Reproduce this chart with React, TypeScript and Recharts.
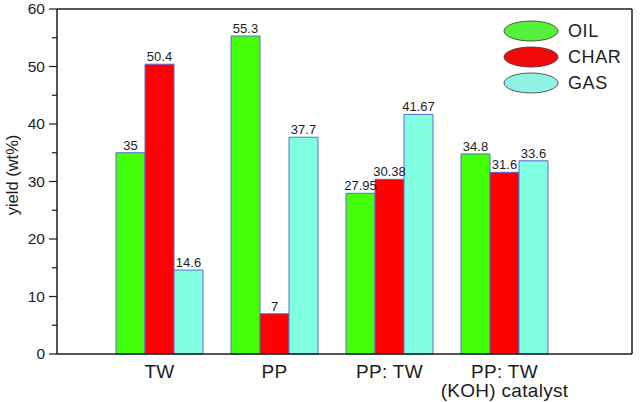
import { BarChart, Bar, XAxis, YAxis, LabelList, Legend, ReferenceLine } from "recharts";

const categories = ["TW", "PP", "PP: TW", "PP: TW\n(KOH) catalyst"];
const oil = [35, 55.3, 27.95, 34.8];
const char = [50.4, 7, 30.38, 31.6];
const gas = [14.6, 37.7, 41.67, 33.6];
const yTicks = [0, 5, 10, 15, 20, 25, 30, 35, 40, 45, 50, 55, 60];

const series = [
	{ key: "oil", name: "OIL", color: "#44ff0a", legend: "#55f03a" },
	{ key: "char", name: "CHAR", color: "#ff0000", legend: "#f20a0a" },
	{ key: "gas", name: "GAS", color: "#80ffe0", legend: "#8ff2e2" },
];

const data = categories.map((c, i) => ({
	cat: c,
	oil: oil[i],
	char: char[i],
	gas: gas[i],
}));

const font = "'Liberation Sans', Arial, sans-serif";
const ink = "#1c1c1c";

function YTick({ x, y, payload }: any) {
	const major = payload.value % 10 === 0;
	return (
		<g>
			<line x1={x - (major ? 8 : 5)} x2={x} y1={y} y2={y} stroke={ink} strokeWidth={1.2} />
			{major && (
				<text x={x - 12} y={y} dy={5} textAnchor="end" fontSize={15.5} fill={ink} fontFamily={font}>
					{payload.value}
				</text>
			)}
		</g>
	);
}

function XTick({ x, y, payload }: any) {
	const lines = String(payload.value).split("\n");
	return (
		<g>
			{lines.map((l, i) => (
				<text
					key={i}
					x={x}
					y={y + 24 + i * 19}
					textAnchor="middle"
					fontSize={19}
					letterSpacing={0.3}
					fill={ink}
					fontFamily={font}
				>
					{l}
				</text>
			))}
		</g>
	);
}

function LegendBox() {
	return (
		<svg width={137} height={80}>
			{series.map((s, i) => (
				<g key={s.key}>
					<ellipse cx={28} cy={15 + i * 26} rx={27} ry={10} fill={s.legend} stroke="#333" strokeWidth={0.8} />
					<text x={65} y={21 + i * 26} fontSize={18} letterSpacing={0.6} fill={ink} fontFamily={font}>
						{s.name}
					</text>
				</g>
			))}
		</svg>
	);
}

export default function App() {
	return (
		<div style={{ position: "absolute", left: 0, top: 0, background: "#fff" }}>
			<BarChart
				width={640}
				height={402}
				data={data}
				margin={{ top: 9, right: 0, left: 0, bottom: 0 }}
				barGap={0}
				barSize={29}
			>
				<XAxis
					dataKey="cat"
					height={48}
					padding={{ left: 45, right: 70 }}
					tickLine={false}
					tickSize={0}
					tickMargin={0}
					tick={<XTick />}
					interval={0}
					axisLine={{ stroke: ink, strokeWidth: 1.5 }}
				/>
				<YAxis
					yAxisId="left"
					width={57}
					domain={[0, 60]}
					ticks={yTicks}
					interval={0}
					tickLine={false}
					tickSize={0}
					tickMargin={0}
					tick={<YTick />}
					axisLine={{ stroke: ink, strokeWidth: 1.5 }}
					label={{
						content: () => (
							<text
								x={14}
								y={175}
								transform="rotate(-90, 14, 175)"
								textAnchor="middle"
								dominantBaseline="middle"
								fontSize={16.5}
								fill={ink}
								fontFamily={font}
							>
								yield (wt%)
							</text>
						),
					}}
				/>
				<YAxis
					yAxisId="right"
					orientation="right"
					width={8}
					domain={[0, 60]}
					tick={false}
					tickLine={false}
					axisLine={{ stroke: ink, strokeWidth: 1.5 }}
				/>
				<ReferenceLine yAxisId="left" y={60} stroke={ink} strokeWidth={1.5} />
				<Legend
					layout="vertical"
					align="center"
					verticalAlign="middle"
					wrapperStyle={{ top: 16, left: 503, width: 137 }}
					content={() => <LegendBox />}
				/>
				{series.map(s => (
					<Bar
						key={s.key}
						yAxisId="left"
						dataKey={s.key}
						name={s.name}
						fill={s.color}
						stroke="#5a6cd2"
						strokeWidth={1}
						isAnimationActive={false}
					>
						<LabelList dataKey={s.key} position="top" offset={3} fontSize={13} fill={ink} fontFamily={font} />
					</Bar>
				))}
			</BarChart>
		</div>
	);
}
